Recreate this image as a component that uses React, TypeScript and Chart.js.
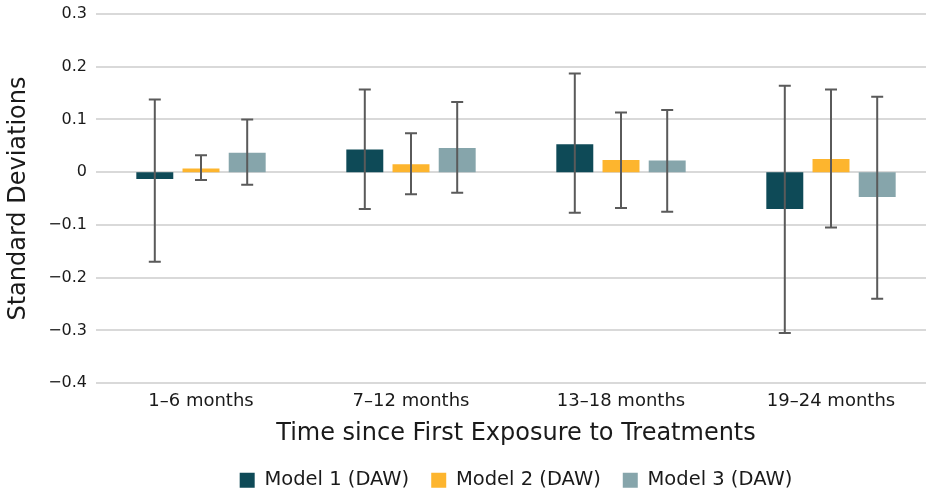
import React, { useEffect, useRef } from "react";
import { Chart, registerables } from "chart.js";

Chart.register(...registerables);

const categories = ["1–6 months", "7–12 months", "13–18 months", "19–24 months"];
const seriesNames = ["Model 1 (DAW)", "Model 2 (DAW)", "Model 3 (DAW)"];
const seriesColors = ["#0e4a57", "#fdb52e", "#86a5ab"];

const model1 = [-0.013, 0.043, 0.053, -0.07];
const model2 = [0.007, 0.015, 0.023, 0.025];
const model3 = [0.037, 0.046, 0.022, -0.047];

const model1Low = [-0.17, -0.07, -0.077, -0.305];
const model1High = [0.138, 0.157, 0.187, 0.164];
const model2Low = [-0.015, -0.042, -0.068, -0.105];
const model2High = [0.032, 0.074, 0.113, 0.157];
const model3Low = [-0.024, -0.039, -0.075, -0.24];
const model3High = [0.1, 0.133, 0.118, 0.143];

const yMin = -0.4;
const yMax = 0.3;
const yStep = 0.1;

const FONT = "'DejaVu Sans', sans-serif";
const TEXT = "#1a1a1a";

const errorBarPlugin = {
  id: "errorBars",
  afterDatasetsDraw(chart: any) {
    const ctx = chart.ctx;
    const yScale = chart.scales.y;
    chart.data.datasets.forEach((ds: any, i: number) => {
      const meta = chart.getDatasetMeta(i);
      meta.data.forEach((bar: any, j: number) => {
        const x = bar.x;
        const yl = yScale.getPixelForValue(ds.errLow[j]);
        const yh = yScale.getPixelForValue(ds.errHigh[j]);
        ctx.save();
        ctx.strokeStyle = "#5a5a5a";
        ctx.lineWidth = 2;
        ctx.beginPath();
        ctx.moveTo(x, yl);
        ctx.lineTo(x, yh);
        ctx.moveTo(x - 6, yl);
        ctx.lineTo(x + 6, yl);
        ctx.moveTo(x - 6, yh);
        ctx.lineTo(x + 6, yh);
        ctx.stroke();
        ctx.restore();
      });
    });
  },
};

function fmt(v: number) {
  const r = Math.round(v * 10) / 10;
  if (r === 0) return "0";
  return r.toFixed(1).replace("-", "\u2212");
}

export default function App() {
  const ref = useRef<HTMLCanvasElement | null>(null);
  useEffect(() => {
    document.documentElement.style.overflow = "hidden";
    document.body.style.overflow = "hidden";
    if (!ref.current) return;
    const lows = [model1Low, model2Low, model3Low];
    const highs = [model1High, model2High, model3High];
    const vals = [model1, model2, model3];
    const chart = new Chart(ref.current, {
      type: "bar",
      data: {
        labels: categories,
        datasets: vals.map((v, i) => ({
          label: seriesNames[i],
          data: v,
          backgroundColor: seriesColors[i],
          borderWidth: 0,
          categoryPercentage: 0.66,
          barPercentage: 0.8,
          errLow: lows[i],
          errHigh: highs[i],
        })) as any,
      },
      options: {
        animation: false,
        responsive: true,
        maintainAspectRatio: false,
        layout: { padding: { top: 14, right: 0, bottom: 0, left: 0 } },
        plugins: {
          legend: {
            position: "bottom",
            fullSize: false,
            labels: {
              color: TEXT,
              font: { family: FONT, size: 19.5 },
              boxWidth: 15,
              boxHeight: 15,
              padding: 22,
            },
          },
          tooltip: { enabled: false },
        },
        scales: {
          x: {
            grid: { display: false, drawTicks: false },
            border: { display: false },
            ticks: { color: TEXT, font: { family: FONT, size: 18 }, padding: 7 },
            title: {
              display: true,
              text: "Time since First Exposure to Treatments",
              color: TEXT,
              font: { family: FONT, size: 24 },
              padding: { top: 1, bottom: 0 },
            },
          },
          y: {
            min: yMin,
            max: yMax,
            afterFit(scale: any) {
              scale.width = 96;
              scale.paddingTop = 0;
              scale.paddingBottom = 0;
            },
            grid: { color: "#d9d9d9", lineWidth: 2, drawTicks: false },
            border: { display: false },
            ticks: {
              stepSize: yStep,
              color: TEXT,
              font: { family: FONT, size: 16 },
              padding: 9,
              callback: (v: any) => fmt(Number(v)),
            },
            title: {
              display: true,
              text: "Standard Deviations",
              color: TEXT,
              font: { family: FONT, size: 24 },
              padding: { top: 4, bottom: 0 },
            },
          },
        },
      },
      plugins: [errorBarPlugin],
    });
    return () => chart.destroy();
  }, []);
  return (
    <div style={{ position: "fixed", left: 0, top: 0, width: 926, height: 495, overflow: "hidden", background: "#fff" }}>
      <div style={{ position: "relative", width: 936, height: 500 }}>
        <canvas ref={ref} />
      </div>
    </div>
  );
}
